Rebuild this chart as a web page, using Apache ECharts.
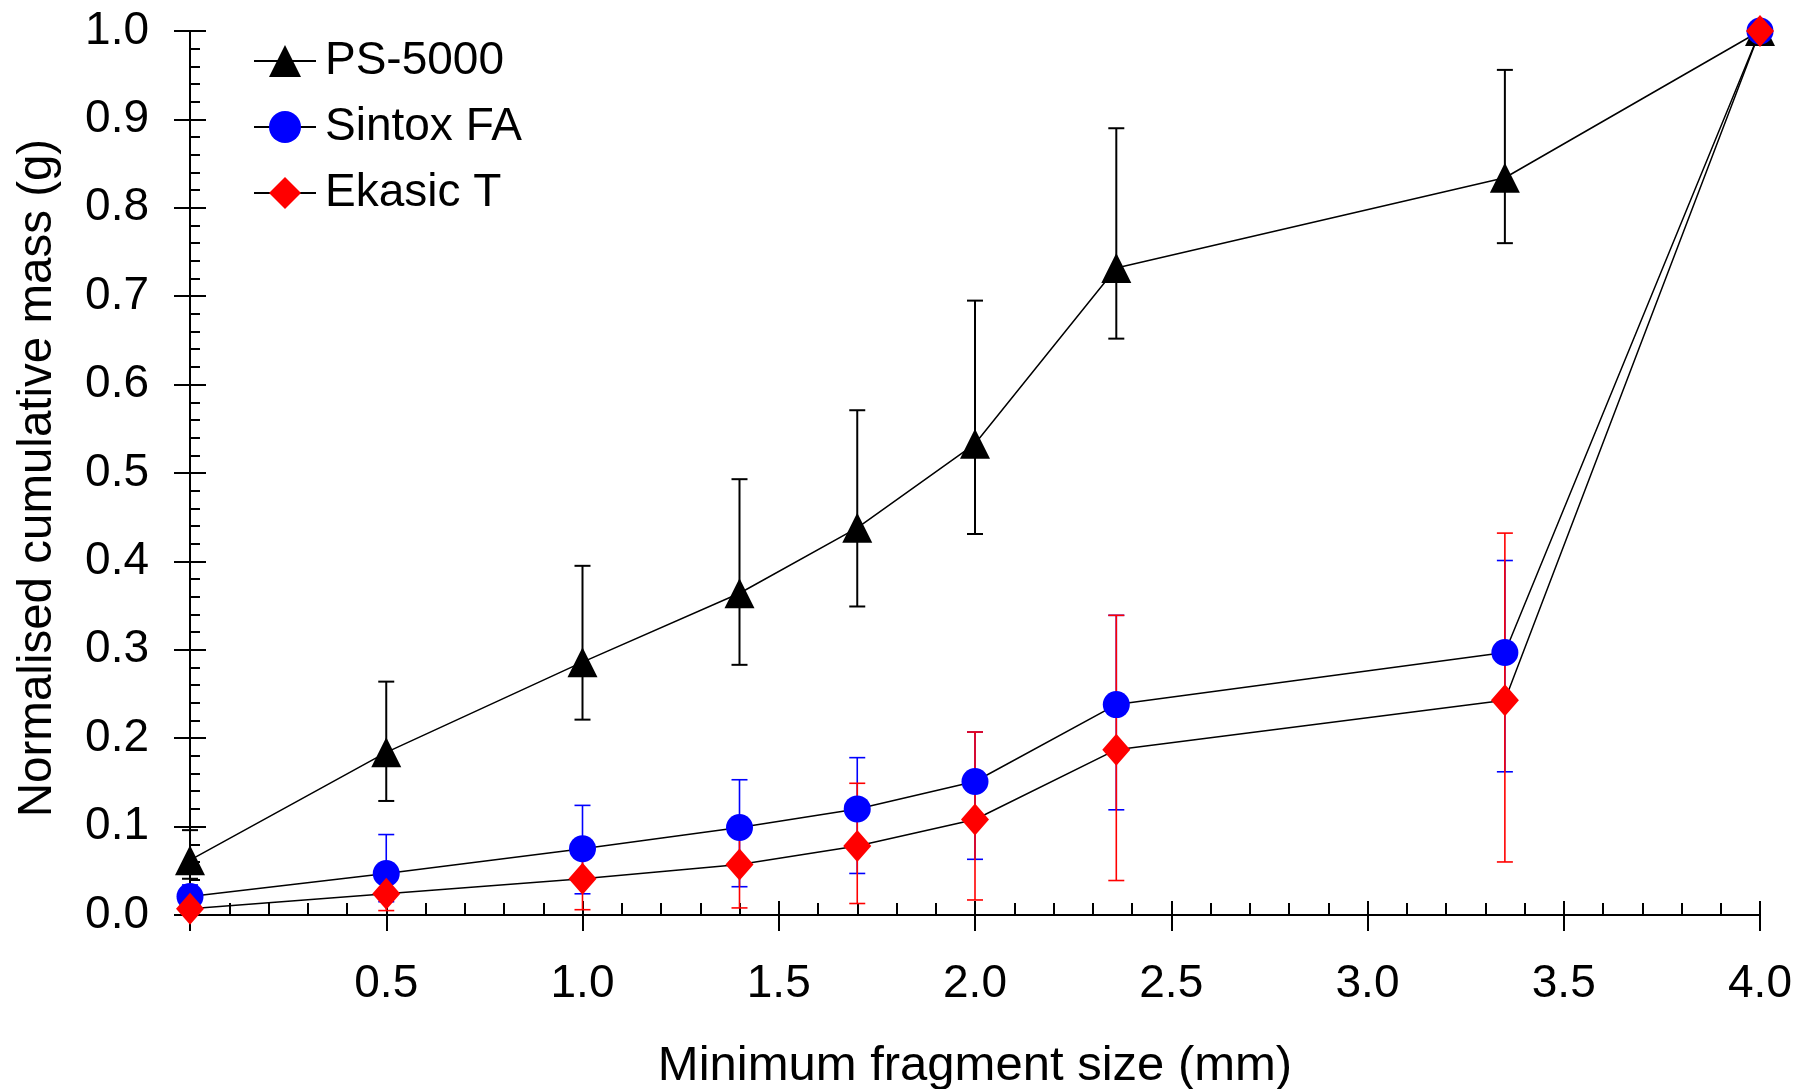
<!DOCTYPE html>
<html>
<head>
<meta charset="utf-8">
<title>Cumulative mass</title>
<script src="https://cdn.jsdelivr.net/npm/echarts@6/dist/echarts.min.js"></script>
<style>
  html, body { margin: 0; padding: 0; background: #fff; }
  #chart { width: 1798px; height: 1089px; }
</style>
</head>
<body>
<div id="chart"></div>
<script>
// sieve sizes (mm)
const sizes = [0, 0.5, 1.0, 1.4, 1.7, 2.0, 2.36, 3.35, 4.0];

// PS-5000
const ps = [0.062, 0.184, 0.286, 0.364, 0.438, 0.533, 0.732, 0.834, 1.0];
const psLow = [0.041, 0.129, 0.221, 0.283, 0.349, 0.431, 0.652, 0.760, 1.0];
const psHigh = [0.096, 0.264, 0.395, 0.493, 0.571, 0.695, 0.890, 0.956, 1.0];

// Sintox FA
const sintox = [0.021, 0.047, 0.075, 0.099, 0.120, 0.151, 0.238, 0.297, 1.0];
const sintoxLow = [0.008, 0.015, 0.024, 0.032, 0.047, 0.063, 0.119, 0.162, 1.0];
const sintoxHigh = [0.034, 0.091, 0.124, 0.153, 0.178, 0.207, 0.339, 0.401, 1.0];

// Ekasic T
const ekasic = [0.007, 0.024, 0.041, 0.057, 0.078, 0.108, 0.187, 0.243, 1.0];
const ekasicLow = [0.002, 0.005, 0.006, 0.008, 0.013, 0.017, 0.039, 0.060, 1.0];
const ekasicHigh = [0.012, 0.040, 0.072, 0.105, 0.149, 0.207, 0.339, 0.432, 1.0];

const font = "'Liberation Sans', Arial, sans-serif";

const chart = echarts.init(document.getElementById('chart'));

const pairs = (ys) => sizes.map((x, i) => [x, ys[i]]);
const bars = (lo, hi) => sizes.map((x, i) => [x, lo[i], hi[i]]);

// vertical error bar with caps
function errorSeries(name, lo, hi, color, width) {
  return {
    type: 'custom',
    name: name + ' err',
    data: bars(lo, hi),
    encode: { x: 0, y: [1, 2] },
    z: 1,
    silent: true,
    renderItem: (params, api) => {
      const top = api.coord([api.value(0), api.value(2)]);
      const bot = api.coord([api.value(0), api.value(1)]);
      const w = 8;
      const style = { stroke: color, lineWidth: width };
      return {
        type: 'group',
        children: [
          { type: 'line', shape: { x1: top[0], y1: top[1], x2: bot[0], y2: bot[1] }, style },
          { type: 'line', shape: { x1: top[0] - w, y1: top[1], x2: top[0] + w, y2: top[1] }, style },
          { type: 'line', shape: { x1: bot[0] - w, y1: bot[1], x2: bot[0] + w, y2: bot[1] }, style }
        ]
      };
    }
  };
}

function lineSeries(name, ys, symbol, size, color) {
  return {
    type: 'line',
    name: name,
    data: pairs(ys),
    symbol: symbol,
    symbolSize: size,
    showAllSymbol: true,
    z: 3,
    lineStyle: { color: '#000', width: 1.5 },
    itemStyle: { color: color, borderWidth: 0 },
    emphasis: { disabled: true }
  };
}

const yBase = {
  type: 'value',
  min: 0,
  max: 1,
  interval: 0.1,
  position: 'left',
  splitLine: { show: false },
  axisLine: { show: true, lineStyle: { color: '#000', width: 2 } }
};

const option = {
  animation: false,
  backgroundColor: '#fff',
  textStyle: { fontFamily: font },
  grid: { left: 190, right: 38, top: 31, bottom: 174, outerBoundsMode: 'none', containLabel: false },
  legend: {
    orient: 'vertical',
    left: 248,
    top: 33,
    itemWidth: 62,
    itemHeight: 40,
    itemGap: 20,
    data: ['PS-5000', 'Sintox FA', 'Ekasic T'],
    textStyle: { fontSize: 46, color: '#000', fontFamily: font, padding: [0, 0, 0, 4] }
  },
  xAxis: [
    {
      type: 'value',
      min: 0,
      max: 4,
      interval: 0.5,
      name: 'Minimum fragment size (mm)',
      nameLocation: 'middle',
      nameGap: 127,
      nameTextStyle: { fontSize: 49, color: '#000', fontFamily: font },
      splitLine: { show: false },
      axisLine: { lineStyle: { color: '#000', width: 2 }, onZero: false },
      axisTick: { show: true, inside: false, length: 16, lineStyle: { color: '#000', width: 2 } },
      axisLabel: {
        fontSize: 46,
        color: '#000',
        margin: 46,
        formatter: (v) => (v === 0 ? '' : v.toFixed(1))
      }
    },
    // second x axis only for inward ticks
    {
      type: 'value',
      min: 0,
      max: 4,
      interval: 0.5,
      position: 'bottom',
      splitLine: { show: false },
      axisLine: { show: false },
      axisTick: { show: true, inside: true, length: 14, lineStyle: { color: '#000', width: 2 } },
      minorTick: { show: true, splitNumber: 5, length: 12, lineStyle: { color: '#000', width: 2 } },
      axisLabel: { show: false }
    }
  ],
  yAxis: [
    Object.assign({}, yBase, {
      name: 'Normalised cumulative mass (g)',
      nameLocation: 'middle',
      nameGap: 128,
      nameTextStyle: { fontSize: 47.5, color: '#000', fontFamily: font, padding: [0, 10, 0, 0] },
      axisTick: { show: true, inside: false, length: 16, lineStyle: { color: '#000', width: 2 } },
      axisLabel: {
        fontSize: 46,
        color: '#000',
        margin: 41,
        formatter: (v) => v.toFixed(1)
      }
    }),
    Object.assign({}, yBase, {
      axisTick: { show: true, inside: true, length: 16, lineStyle: { color: '#000', width: 2 } },
      minorTick: { show: true, splitNumber: 5, length: 10, lineStyle: { color: '#000', width: 2 } },
      axisLabel: { show: false }
    })
  ],
  series: [
    errorSeries('PS-5000', psLow, psHigh, '#000', 2),
    errorSeries('Sintox FA', sintoxLow, sintoxHigh, '#0000ff', 1.6),
    errorSeries('Ekasic T', ekasicLow, ekasicHigh, '#ff0000', 1.6),
    lineSeries('PS-5000', ps, 'triangle', 30, '#000'),
    lineSeries('Sintox FA', sintox, 'circle', 27, '#0000ff'),
    lineSeries('Ekasic T', ekasic, 'diamond', [28, 32], '#ff0000')
  ]
};

chart.setOption(option);
</script>
</body>
</html>
